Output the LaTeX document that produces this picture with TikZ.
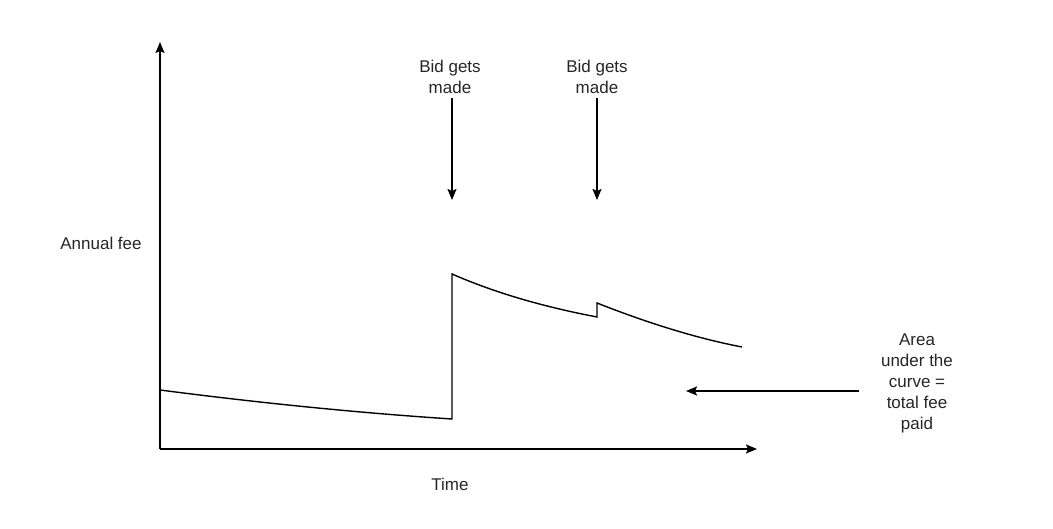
\documentclass[tikz,border=0pt]{standalone}
\usepackage{fontspec}
\setmainfont{Liberation Sans}
\usetikzlibrary{arrows.meta}
\begin{document}
\begin{tikzpicture}[x=1pt,y=-1pt,
  lbl/.style={font=\fontsize{17}{21}\selectfont,align=center,inner sep=0pt,text=black!85},
  axis/.style={line width=1.6pt,-{Stealth[length=11pt,width=9pt,inset=2pt]}},
  curve/.style={line width=1.4pt,line join=miter}]
\useasboundingbox (0,0) rectangle (1053,529);
% axes
\coordinate (O) at (160,449);
\coordinate (ytip) at (160,42);
\coordinate (xtip) at (757,449);
\draw[axis] (O) -- (ytip);
\draw[axis] (O) -- (xtip);
% curve
\coordinate (c0) at (160,390);
\coordinate (c1) at (452,419);
\coordinate (c2) at (452,274);
\coordinate (c3) at (597,317);
\coordinate (c4) at (597,303);
\coordinate (c5) at (742,347);
\draw[curve] (c0) .. controls (260,403) and (360,413) .. (c1) -- (c2)
  .. controls (500,295) and (550,308) .. (c3) -- (c4)
  .. controls (645,322) and (695,338) .. (c5);
% labels
\node[lbl] (bid1) at (450,77) {Bid gets\\made};
\node[lbl] (bid2) at (597,77) {Bid gets\\made};
\coordinate (b1tip) at (452,200);
\coordinate (b2tip) at (597,200);
\draw[axis] (452,98) -- (b1tip);
\draw[axis] (597,98) -- (b2tip);
\node[lbl] (fee) at (101,243) {Annual fee};
\node[lbl] (time) at (450,484) {Time};
\node[lbl] (area) at (917,383) {Area\\under the\\curve =\\total fee\\paid};
\coordinate (atip) at (686,391);
\draw[axis] (859,391) -- (atip);
\end{tikzpicture}
\end{document}
